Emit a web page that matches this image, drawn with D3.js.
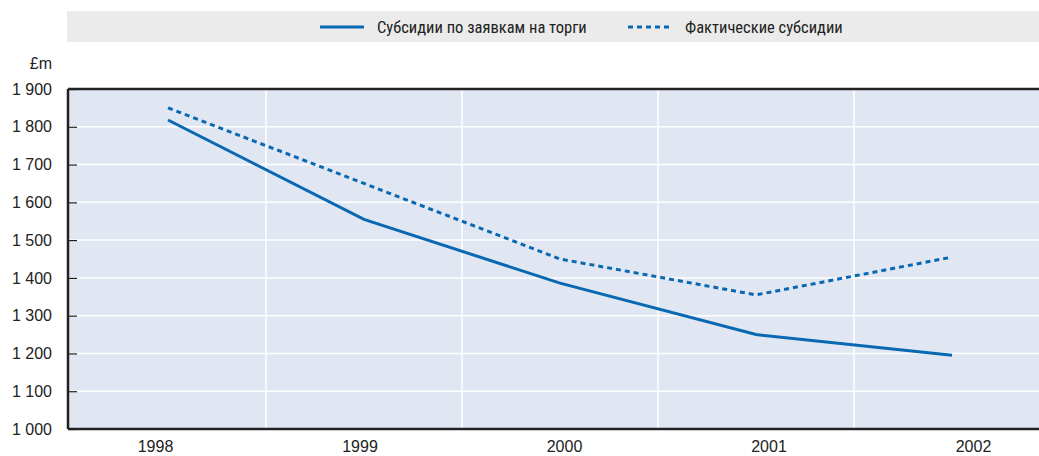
<!DOCTYPE html>
<html>
<head>
<meta charset="utf-8">
<style>
  body { margin: 0; background: #fff; }
  svg { display: block; font-family: "Liberation Sans Narrow", "Roboto Condensed", "Liberation Sans", sans-serif; }
  .num { font-family: "Liberation Sans", Arial, sans-serif; }
</style>
</head>
<body>
<div id="chart"></div>
<script src="https://d3js.org/d3.v7.min.js"></script>
<script>
// data
var years = ["1998", "1999", "2000", "2001", "2002"];
var bidSubsidy = [1818, 1555, 1386, 1250, 1195];    // Субсидии по заявкам на торги
var actualSubsidy = [1850, 1650, 1450, 1355, 1455]; // Фактические субсидии
var yTicks = [1000, 1100, 1200, 1300, 1400, 1500, 1600, 1700, 1800, 1900];
var seriesNames = ["Субсидии по заявкам на торги", "Фактические субсидии"];

var W = 1039, H = 456;
var blue = "#0868b1";
var fs = 16.5, fsNum = 16;

var svg = d3.select("#chart").append("svg")
    .attr("width", W)
    .attr("height", H);

var pLeft = 68, pRight = 1039, pTop = 89, pBottom = 429;

var x = d3.scaleBand().domain(years).range([70, 1050]);
var xLab = d3.scalePoint().domain(years).range([155, 973]);
var y = d3.scaleLinear().domain([1000, 1900]).range([pBottom, pTop]);

// legend strip
svg.append("rect")
    .attr("x", 67).attr("y", 11)
    .attr("width", W - 67).attr("height", 31)
    .attr("fill", "#ebebeb");

var legendItems = [
  {name: seriesNames[0], x0: 320, dash: null},
  {name: seriesNames[1], x0: 628, dash: "5,4"}
];
var lg = svg.append("g").selectAll("g").data(legendItems).enter().append("g");
lg.append("line")
    .attr("x1", function(d) { return d.x0; })
    .attr("x2", function(d) { return d.x0 + 44; })
    .attr("y1", 27).attr("y2", 27)
    .attr("stroke", blue)
    .attr("stroke-width", 3)
    .attr("stroke-dasharray", function(d) { return d.dash; });
lg.append("text")
    .attr("x", function(d) { return d.x0 + 57; })
    .attr("y", 27)
    .attr("dy", "0.35em")
    .attr("font-size", fs)
    .attr("fill", "#222")
    .text(function(d) { return d.name; });

// plot background
svg.append("rect")
    .attr("x", pLeft).attr("y", pTop)
    .attr("width", pRight - pLeft).attr("height", pBottom - pTop)
    .attr("fill", "#e1e7f2");

// horizontal grid
svg.append("g").selectAll("line")
    .data(yTicks.slice(1, -1))
    .enter().append("line")
    .attr("x1", pLeft).attr("x2", pRight)
    .attr("y1", function(d) { return y(d); })
    .attr("y2", function(d) { return y(d); })
    .attr("stroke", "#fff")
    .attr("stroke-width", 1.5);

// vertical grid at band edges
svg.append("g").selectAll("line")
    .data(years.slice(1))
    .enter().append("line")
    .attr("x1", function(d) { return x(d); })
    .attr("x2", function(d) { return x(d); })
    .attr("y1", pTop).attr("y2", pBottom)
    .attr("stroke", "#fff")
    .attr("stroke-width", 1.5);

// y axis
var yAxis = svg.append("g")
    .attr("transform", "translate(" + pLeft + ",0)")
    .call(d3.axisLeft(y).tickValues(yTicks)
      .tickSize(0).tickPadding(16)
      .tickFormat(function(d) { return d3.format(",")(d).replace(",", " "); }));
yAxis.attr("font-family", null).attr("font-size", null);
yAxis.select(".domain").remove();
yAxis.selectAll("text").attr("class", "num").attr("font-size", fsNum).attr("fill", "#222");
yAxis.selectAll(".tick").append("line")
    .attr("x1", 0).attr("x2", 9)
    .attr("stroke", "#222").attr("stroke-width", 1.2);

svg.append("text")
    .attr("class", "num")
    .attr("x", 52).attr("y", 63)
    .attr("dy", "0.35em")
    .attr("text-anchor", "end")
    .attr("font-size", fsNum)
    .attr("fill", "#222")
    .text("£m");

// x axis labels
var xAxis = svg.append("g")
    .attr("transform", "translate(0," + pBottom + ")")
    .call(d3.axisBottom(xLab).tickSize(0).tickPadding(12));
xAxis.attr("font-family", null).attr("font-size", null);
xAxis.select(".domain").remove();
xAxis.selectAll("text").attr("class", "num").attr("font-size", fsNum).attr("fill", "#222");

// frame lines
svg.append("line")
    .attr("x1", pLeft).attr("x2", pRight).attr("y1", pTop).attr("y2", pTop)
    .attr("stroke", "#222").attr("stroke-width", 2.5);
svg.append("line")
    .attr("x1", pLeft).attr("x2", pRight).attr("y1", pBottom).attr("y2", pBottom)
    .attr("stroke", "#222").attr("stroke-width", 2.5);
svg.append("line")
    .attr("x1", pLeft).attr("x2", pLeft).attr("y1", pTop).attr("y2", pBottom)
    .attr("stroke", "#222").attr("stroke-width", 2.5);

// series
var line = d3.line()
    .x(function(d, i) { return x(years[i]) + x.bandwidth() / 2; })
    .y(function(d) { return y(d); });

svg.append("path")
    .datum(bidSubsidy)
    .attr("d", line)
    .attr("fill", "none")
    .attr("stroke", blue)
    .attr("stroke-width", 3);

svg.append("path")
    .datum(actualSubsidy)
    .attr("d", line)
    .attr("fill", "none")
    .attr("stroke", blue)
    .attr("stroke-width", 3)
    .attr("stroke-dasharray", "5,4");
</script>
</body>
</html>
